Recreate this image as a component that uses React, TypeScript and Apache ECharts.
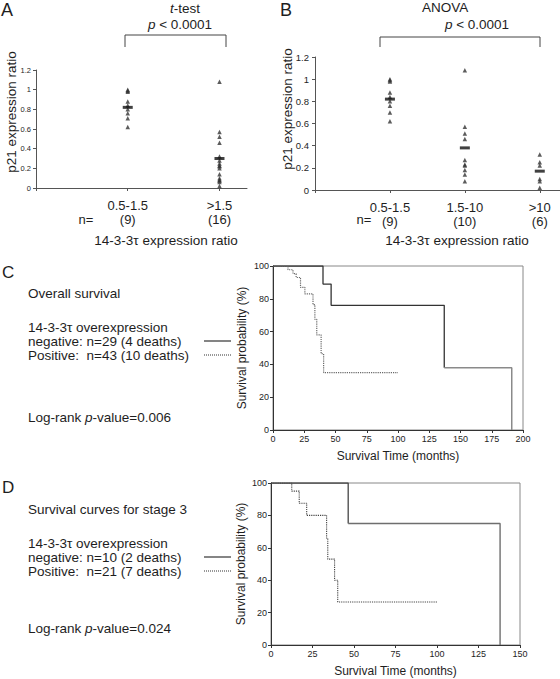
import React, { useEffect, useRef } from 'react';
import * as echarts from 'echarts';

const FONT = 'Liberation Sans, Arial, sans-serif';
const INK = '#1e1e1e';

// Panel A (t-test)
const catsA = ['0.5-1.5', '>1.5'];
const countsA = ['(9)', '(16)'];
const groupA1 = [1.0, 0.99, 0.98, 0.88, 0.84, 0.8, 0.76, 0.71, 0.62];
const groupA2 = [1.08, 0.57, 0.52, 0.46, 0.32, 0.28, 0.25, 0.23, 0.22, 0.2, 0.14, 0.1, 0.08, 0.08, 0.06, 0.02];
const meansA = [0.82, 0.3];

// Panel B (ANOVA)
const catsB = ['0.5-1.5', '1.5-10', '>10'];
const countsB = ['(9)', '(10)', '(6)'];
const groupB1 = [1.0, 0.99, 0.98, 0.88, 0.84, 0.8, 0.76, 0.7, 0.62];
const groupB2 = [1.08, 0.57, 0.51, 0.46, 0.27, 0.23, 0.22, 0.18, 0.14, 0.08];
const groupB3 = [0.32, 0.25, 0.22, 0.1, 0.08, 0.02];
const meansB = [0.82, 0.38, 0.17];

// Panel C (overall survival)
const cNegTime = [0, 40, 46.5, 137, 191];
const cNegSurv = [100, 89, 76, 38, 0];
const cPosTime = [0, 12, 16, 18.5, 22, 25.5, 32, 33.5, 35, 38.5, 40.5, 100];
const cPosSurv = [100, 97.7, 95.3, 93, 87, 83, 76.5, 67.5, 58, 46.5, 35, 35];

// Panel D (stage 3)
const dNegTime = [0, 46.5, 138];
const dNegSurv = [100, 75, 0];
const dPosTime = [0, 12.5, 17, 21.5, 33.5, 34.2, 38.3, 40.2, 100];
const dPosSurv = [100, 95, 87.5, 80, 66, 53, 40, 26.5, 26.5];

const zip = (xs: number[], ys: number[]) => xs.map((x, i) => [x, ys[i]]);
const col = (idx: number, vals: number[]) => vals.map((v) => [idx, v]);

function txt(text: string, x: number, y: number, size: number, opts: any = {}) {
  return {
    type: 'text',
    x,
    y,
    rotation: opts.rotation ?? 0,
    silent: true,
    style: {
      text,
      fontSize: size,
      fontFamily: FONT,
      fontStyle: opts.italic ? 'italic' : 'normal',
      fill: INK,
      textAlign: opts.align ?? 'left',
      textVerticalAlign: 'middle',
      rich: {
        i: { fontStyle: 'italic', fontSize: size, fontFamily: FONT, fill: INK },
      },
    },
  };
}

function line(x1: number, y1: number, x2: number, y2: number, dash?: number[]) {
  return {
    type: 'line',
    silent: true,
    shape: { x1, y1, x2, y2 },
    style: { stroke: '#333', lineWidth: 1.2, lineDash: dash },
  };
}

function bracket(x1: number, x2: number, top: number, bottom: number) {
  return {
    type: 'polyline',
    silent: true,
    shape: { points: [[x1, bottom], [x1, top], [x2, top], [x2, bottom]] },
    style: { stroke: '#444', lineWidth: 1, fill: null },
  };
}

function scatterXAxis(gridIndex: number, max: number, cats: string[], counts: string[]) {
  const ticks = cats.map((_, i) => i + 1);
  return {
    gridIndex,
    type: 'value',
    min: 0,
    max,
    interval: 1,
    axisLine: { show: true, lineStyle: { color: '#555', width: 1 } },
    axisTick: { show: true, length: 3, customValues: [0, ...ticks], lineStyle: { color: '#555' } },
    axisLabel: {
      customValues: ticks,
      formatter: (v: number) => {
        const i = Math.round(v) - 1;
        return cats[i] !== undefined ? `${cats[i]}\n${counts[i]}` : '';
      },
      fontSize: 13,
      lineHeight: 14,
      margin: 10,
      color: INK,
      fontFamily: FONT,
    },
    splitLine: { show: false },
  };
}

function scatterYAxis(gridIndex: number, fontSize: number, margin: number) {
  return {
    gridIndex,
    type: 'value',
    min: 0,
    max: 1.2,
    interval: 0.2,
    axisLine: { show: true, lineStyle: { color: '#555', width: 1 } },
    axisTick: { show: true, length: 3, lineStyle: { color: '#555' } },
    axisLabel: {
      fontSize,
      margin,
      color: INK,
      fontFamily: FONT,
      formatter: (v: number) => String(+v.toFixed(1)),
    },
    splitLine: { show: false },
  };
}

function kmXAxis(gridIndex: number, max: number) {
  return {
    gridIndex,
    type: 'value',
    min: 0,
    max,
    interval: 25,
    name: 'Survival Time (months)',
    nameLocation: 'middle',
    nameGap: 20,
    nameTextStyle: { fontSize: 12, fontFamily: FONT, color: INK },
    axisLine: { show: true, lineStyle: { color: '#333', width: 1 } },
    axisTick: { show: true, length: 3, lineStyle: { color: '#333' } },
    axisLabel: { fontSize: 9, margin: 4, color: INK, fontFamily: FONT },
    splitLine: { show: false },
  };
}

function kmYAxis(gridIndex: number) {
  return {
    gridIndex,
    type: 'value',
    min: 0,
    max: 100,
    interval: 20,
    axisLine: { show: true, lineStyle: { color: '#333', width: 1 } },
    axisTick: { show: true, length: 3, lineStyle: { color: '#333' } },
    axisLabel: { fontSize: 9, margin: 4, color: INK, fontFamily: FONT },
    splitLine: { show: false },
  };
}

const triangle = (xi: number, yi: number, data: number[][]) => ({
  type: 'scatter',
  xAxisIndex: xi,
  yAxisIndex: yi,
  symbol: 'triangle',
  symbolSize: 4.5,
  itemStyle: { color: '#333' },
  data,
  silent: true,
});

const meanBar = (xi: number, yi: number, data: number[][]) => ({
  type: 'scatter',
  xAxisIndex: xi,
  yAxisIndex: yi,
  symbol: 'rect',
  symbolSize: [10, 3],
  itemStyle: { color: '#111' },
  data,
  silent: true,
  z: 3,
});

const km = (xi: number, yi: number, data: number[][], color: string, dashed: boolean, width: number) => ({
  type: 'line',
  xAxisIndex: xi,
  yAxisIndex: yi,
  step: 'end',
  showSymbol: false,
  symbol: 'none',
  data,
  silent: true,
  lineStyle: { color, width, type: dashed ? [1.2, 1] : 'solid' },
});

export default function App() {
  const ref = useRef<HTMLDivElement>(null);
  useEffect(() => {
    const chart = echarts.init(ref.current!, null, { renderer: 'svg' });
    const cNeg = zip(cNegTime, cNegSurv);
    const dNeg = zip(dNegTime, dNegSurv);
    const option: any = {
      animation: false,
      backgroundColor: '#ffffff',
      textStyle: { fontFamily: FONT },
      grid: [
        { left: 36, top: 70, width: 211, height: 118 },
        { left: 315, top: 57, width: 245, height: 133 },
        { left: 273, top: 266, width: 250, height: 164, show: true, borderColor: '#888', borderWidth: 1 },
        { left: 271, top: 483, width: 249, height: 162, show: true, borderColor: '#888', borderWidth: 1 },
      ],
      xAxis: [
        scatterXAxis(0, 2.3, catsA, countsA),
        scatterXAxis(1, 3.27, catsB, countsB),
        kmXAxis(2, 200),
        kmXAxis(3, 150),
      ],
      yAxis: [scatterYAxis(0, 7.5, 5), scatterYAxis(1, 9.5, 6), kmYAxis(2), kmYAxis(3)],
      series: [
        triangle(0, 0, [...col(1, groupA1), ...col(2, groupA2)]),
        meanBar(0, 0, meansA.map((m, i) => [i + 1, m])),
        triangle(1, 1, [...col(1, groupB1), ...col(2, groupB2), ...col(3, groupB3)]),
        meanBar(1, 1, meansB.map((m, i) => [i + 1, m])),
        km(2, 2, cNeg.slice(0, 4), '#333', false, 1.3),
        km(2, 2, cNeg.slice(3), '#8a8a8a', false, 1.5),
        km(2, 2, zip(cPosTime, cPosSurv), '#6a6a6a', true, 1.2),
        km(3, 3, dNeg.slice(0, 2), '#444', false, 1.3),
        km(3, 3, dNeg.slice(1), '#6e6e6e', false, 1.4),
        km(3, 3, zip(dPosTime, dPosSurv), '#444', true, 1.1),
      ],
      graphic: [
        txt('A', 1, 10, 18),
        txt('B', 280, 10, 18),
        txt('{i|t}-test', 185, 8, 13.5, { align: 'center' }),
        txt('{i|p} < 0.0001', 180, 24, 13.5, { align: 'center' }),
        txt('ANOVA', 445, 7, 13.5, { align: 'center' }),
        txt('{i|p} < 0.0001', 477, 24, 13.5, { align: 'center' }),
        bracket(125, 226, 35, 47),
        bracket(380, 540, 37, 47),
        txt('p21 expression ratio', 11, 112, 13.5, { align: 'center', rotation: Math.PI / 2 }),
        txt('p21 expression ratio', 287, 109, 13.5, { align: 'center', rotation: Math.PI / 2 }),
        txt('n=', 86, 219, 13, { align: 'center' }),
        txt('n=', 364, 219, 13, { align: 'center' }),
        txt('14-3-3τ expression ratio', 166, 240, 13.5, { align: 'center' }),
        txt('14-3-3τ expression ratio', 457, 240, 13.5, { align: 'center' }),

        txt('C', 2, 272, 17),
        txt('Overall survival', 28, 293, 13.5),
        txt('14-3-3τ overexpression', 28, 327, 13.5),
        txt('negative: n=29 (4 deaths)', 28, 341, 13.5),
        txt('Positive:  n=43 (10 deaths)', 28, 355, 13.5),
        txt('Log-rank {i|p}-value=0.006', 28, 417, 13.5),
        line(204, 341, 231, 341),
        line(204, 355, 231, 355, [1, 1]),
        txt('Survival probability (%)', 242, 348, 12, { align: 'center', rotation: Math.PI / 2 }),

        txt('D', 2, 487, 17),
        txt('Survival curves for stage 3', 28, 509, 13.5),
        txt('14-3-3τ overexpression', 28, 543, 13.5),
        txt('negative: n=10 (2 deaths)', 28, 557, 13.5),
        txt('Positive:  n=21 (7 deaths)', 28, 571, 13.5),
        txt('Log-rank {i|p}-value=0.024', 28, 628, 13.5),
        line(204, 557, 231, 557),
        line(204, 571, 231, 571, [1, 1]),
        txt('Survival probability (%)', 241, 564, 12, { align: 'center', rotation: Math.PI / 2 }),
      ],
    };
    chart.setOption(option);
    return () => chart.dispose();
  }, []);
  return <div ref={ref} style={{ position: 'absolute', left: 0, top: 0, width: 560, height: 679 }} />;
}
